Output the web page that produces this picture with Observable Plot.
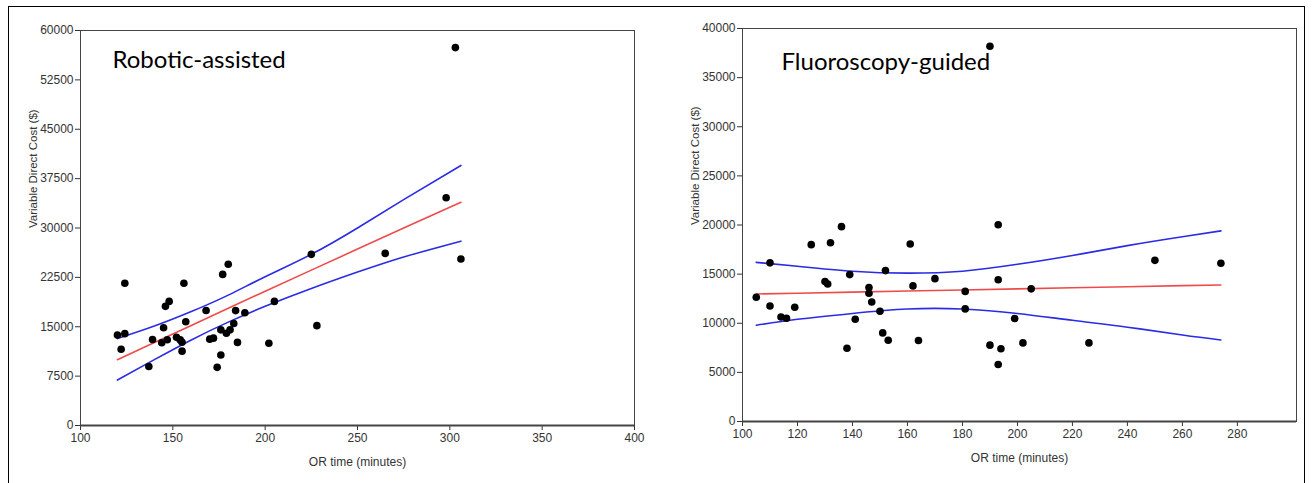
<!DOCTYPE html>
<html><head><meta charset="utf-8">
<script src="https://cdn.jsdelivr.net/npm/d3@7"></script>
<script src="https://cdn.jsdelivr.net/npm/@observablehq/plot@0.6"></script>
<style>
body{margin:0;background:#fff;width:1313px;height:483px;overflow:hidden;position:relative;font-family:"Liberation Sans",Arial,sans-serif}
#border{position:absolute;left:8px;top:6px;width:1297px;height:500px;border:1.5px solid #000;box-sizing:border-box}
#left{position:absolute;left:0;top:0}
#right{position:absolute;left:655px;top:0}
</style></head><body>
<div id="border"></div><div id="left"></div><div id="right"></div>
<script>
// ---- Robotic-assisted panel data ----
const roboticTime = [303, 298, 225, 265, 306, 180, 177, 124, 156, 148, 146, 205, 168, 184, 189, 157, 183, 228, 145, 176, 181, 179, 120, 124, 139, 147, 144, 152, 154, 155, 170, 172, 185, 202, 122, 155, 176, 137, 174];
const roboticCost = [57400, 34600, 26000, 26150, 25300, 24500, 22950, 21600, 21600, 18850, 18100, 18850, 17470, 17450, 17130, 15770, 15500, 15170, 14840, 14530, 14530, 14020, 13730, 13950, 13060, 13020, 12580, 13400, 13000, 12650, 13120, 13270, 12620, 12500, 11590, 11290, 10700, 8960, 8830];
const roboticBandX = [120, 140, 160, 180, 200, 225, 250, 275, 306];
const roboticFit   = [10000, 12600, 15200, 17800, 20400, 23600, 26800, 30000, 33900];
const roboticUpper = [13200, 15100, 17300, 19800, 22600, 26000, 30000, 34300, 39500];
const roboticLower = [6900, 10000, 13000, 15700, 18100, 20800, 23300, 25600, 28000];
const roboticXTicks = [100, 150, 200, 250, 300, 350, 400];
const roboticYTicks = [0, 7500, 15000, 22500, 30000, 37500, 45000, 52500, 60000];

// ---- Fluoroscopy-guided panel data ----
const fluoroTime = [190, 136, 193, 125, 132, 161, 110, 250, 274, 152, 139, 170, 193, 130, 131, 162, 146, 205, 146, 181, 105, 147, 110, 119, 181, 150, 114, 116, 141, 199, 151, 153, 164, 202, 226, 138, 190, 194, 193];
const fluoroCost = [38200, 19830, 20030, 18000, 18200, 18070, 16150, 16400, 16100, 15360, 14950, 14540, 14430, 14240, 14000, 13800, 13630, 13500, 13050, 13240, 12640, 12170, 11760, 11630, 11460, 11220, 10640, 10510, 10410, 10480, 9020, 8270, 8240, 8000, 8000, 7460, 7770, 7410, 5800];
const fluoroBandX = [105, 120, 140, 160, 180, 200, 220, 240, 260, 274];
const fluoroFit   = [12980, 13060, 13170, 13280, 13390, 13500, 13610, 13720, 13830, 13900];
const fluoroUpper = [16200, 15800, 15300, 15100, 15300, 16000, 16900, 17900, 18800, 19400];
const fluoroLower = [9800, 10400, 11000, 11450, 11450, 11000, 10300, 9600, 8800, 8300];
const fluoroXTicks = [100, 120, 140, 160, 180, 200, 220, 240, 260, 280];
const fluoroYTicks = [0, 5000, 10000, 15000, 20000, 25000, 30000, 35000, 40000];

const xLabel = "OR time (minutes)";
const yLabel = "Variable Direct Cost ($)";

function panel(o) {
  const pts = o.time.map((t, i) => ({x: t, y: o.cost[i]}));
  const band = o.bx.map((x, i) => ({x, fit: o.fit[i], up: o.up[i], lo: o.lo[i]}));
  const fmt = d3.format("d");
  return Plot.plot({
    width: o.width, height: 483,
    marginLeft: o.ml, marginRight: o.mr, marginTop: o.mt, marginBottom: o.mb,
    style: {background: "transparent", fontFamily: "'Liberation Sans', Arial, sans-serif", fontSize: "12px", color: "#333", overflow: "visible"},
    x: {domain: o.xd, ticks: o.xt, tickFormat: fmt, tickSize: 5, tickPadding: 3, label: null},
    y: {domain: o.yd, ticks: o.yt, tickFormat: fmt, tickSize: 5, tickPadding: 2, label: null},
    marks: [
      Plot.frame({stroke: "#444", strokeWidth: 1}),
      Plot.ruleY([0], {stroke: "#444", strokeWidth: 2}),
      Plot.line(band, {x: "x", y: "up", stroke: "#2b2be6", strokeWidth: 1.6, curve: "natural"}),
      Plot.line(band, {x: "x", y: "lo", stroke: "#2b2be6", strokeWidth: 1.6, curve: "natural"}),
      Plot.line(band, {x: "x", y: "fit", stroke: "#ef4b4b", strokeWidth: 1.6}),
      Plot.dot(pts, {x: "x", y: "y", r: 3.8, fill: "#000", stroke: "none"}),
      Plot.text([o.title], {frameAnchor: "top-left", dx: o.tdx, dy: o.tdy, fontSize: 24, fontFamily: "Lato, 'Open Sans', sans-serif", textAnchor: "start", lineAnchor: "middle", fill: "#000"}),
      Plot.text([xLabel], {frameAnchor: "bottom", dy: 37, fontSize: 12, lineAnchor: "middle", fill: "#333"}),
      Plot.text([yLabel], {frameAnchor: "left", dx: -47, rotate: -90, fontSize: 11.5, lineAnchor: "middle", fill: "#333"})
    ]
  });
}

document.getElementById("left").append(panel({
  time: roboticTime, cost: roboticCost, bx: roboticBandX, fit: roboticFit, up: roboticUpper, lo: roboticLower,
  width: 655, ml: 80, mr: 21, mt: 30, mb: 58, xd: [100, 400], yd: [0, 60000], xt: roboticXTicks, yt: roboticYTicks,
  title: "Robotic-assisted", tdx: 32, tdy: 30
}));
document.getElementById("right").append(panel({
  time: fluoroTime, cost: fluoroCost, bx: fluoroBandX, fit: fluoroFit, up: fluoroUpper, lo: fluoroLower,
  width: 658, ml: 87, mr: 17, mt: 28, mb: 62, xd: [100, 301.5], yd: [0, 40000], xt: fluoroXTicks, yt: fluoroYTicks,
  title: "Fluoroscopy-guided", tdx: 39, tdy: 34
}));
</script></body></html>
